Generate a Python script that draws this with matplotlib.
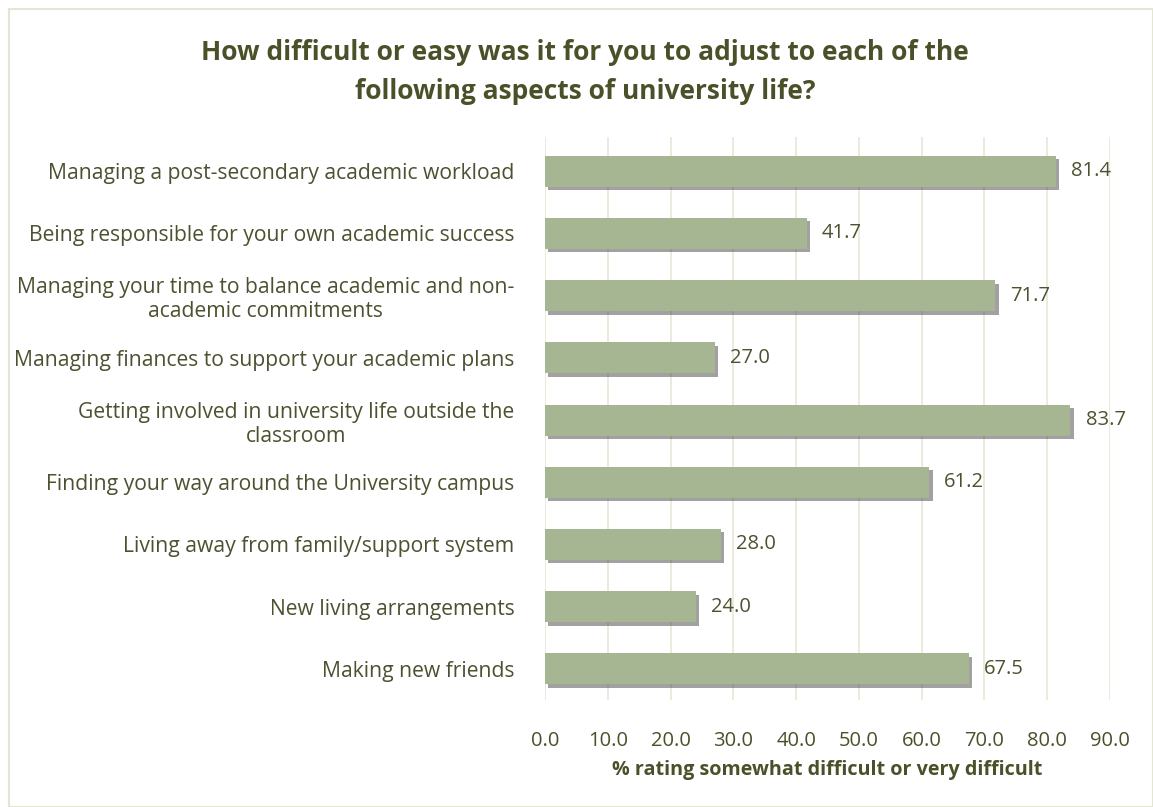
import matplotlib
matplotlib.use("Agg")
import matplotlib.pyplot as plt
import matplotlib.patheffects as pe
from matplotlib.patches import Rectangle

categories = [
    "Managing a post-secondary academic workload",
    "Being responsible for your own academic success",
    "Managing your time to balance academic and non-\nacademic commitments",
    "Managing finances to support your academic plans",
    "Getting involved in university life outside the\nclassroom",
    "Finding your way around the University campus",
    "Living away from family/support system",
    "New living arrangements",
    "Making new friends",
]
values = [81.4, 41.7, 71.7, 27.0, 83.7, 61.2, 28.0, 24.0, 67.5]
xticks = [0, 10, 20, 30, 40, 50, 60, 70, 80, 90]

title = "How difficult or easy was it for you to adjust to each of the\nfollowing aspects of university life?"
xlabel = "% rating somewhat difficult or very difficult"

plt.rcParams['font.family'] = ['Open Sans', 'DejaVu Sans']

bar_color = "#A6B592"
olive = "#4A5128"
text_col = "#4B5230"
grid_color = "#E6E8D4"

W, H = 1153, 807
fig = plt.figure(figsize=(W / 100, H / 100), dpi=100)
renderer = fig.canvas.get_renderer()


def fit_size(text, target_px, weight='normal', base=12):
    # font size that makes text about target_px wide
    t = fig.text(0, 0, text, fontsize=base, fontweight=weight)
    w = t.get_window_extent(renderer).width
    t.remove()
    return base * target_px / w


fig.patches.append(Rectangle((9/W, 0), 1 - 9/W, 1 - 9/H, transform=fig.transFigure,
                             fill=False, edgecolor="#E3E6D2", linewidth=1.5))

# plot area in pixels: x 545..1110, y 137..700
x0, x1, y0, y1 = 545, 1110, 137, 700
ax = fig.add_axes([x0/W, 1 - y1/H, (x1 - x0)/W, (y1 - y0)/H])
y = list(range(len(categories)))
bars = ax.barh(y, values, height=0.5, color=bar_color, zorder=3)
for b in bars:
    b.set_path_effects([pe.SimplePatchShadow(offset=(2.5, -2.5), shadow_rgbFace="#444444", alpha=0.5), pe.Normal()])

ax.set_ylim(len(categories) - 0.5, -0.55)
ax.set_xlim(0, 90)

cat_fs = fit_size(categories[0], 464)
num_fs = fit_size("83.7", 40)

ax.set_xticks(xticks)
ax.set_xticklabels([f"{t:.1f}" for t in xticks], fontsize=num_fs, color=olive)
ax.set_yticks(y)
ax.set_yticklabels(categories, fontsize=cat_fs, color=text_col)
for lbl in ax.get_yticklabels():
    lbl.set_multialignment('center')
ax.tick_params(axis='x', length=0, pad=22)
ax.tick_params(axis='y', length=0, pad=22)
ax.grid(axis='x', color=grid_color, linewidth=1.2, zorder=0)
for s in ax.spines.values():
    s.set_visible(False)

for yi, v in zip(y, values):
    ax.text(v + 2.4, yi, f"{v:.1f}", va='center', ha='left', fontsize=num_fs, color=text_col)

ax.set_xlabel(xlabel, fontsize=fit_size(xlabel, 430, 'bold'), fontweight='bold', color=olive)
ax.xaxis.set_label_coords(0.5, -(770 - y1) / (y1 - y0))
ax.xaxis.label.set_va('center')

title_fs = fit_size(title.split("\n")[0], 770, 'bold')
fig.text(585/W, 1 - 72/H, title, ha='center', va='center', fontsize=title_fs,
         fontweight='bold', color=olive, linespacing=1.58)

fig.savefig("out.png", dpi=100)
